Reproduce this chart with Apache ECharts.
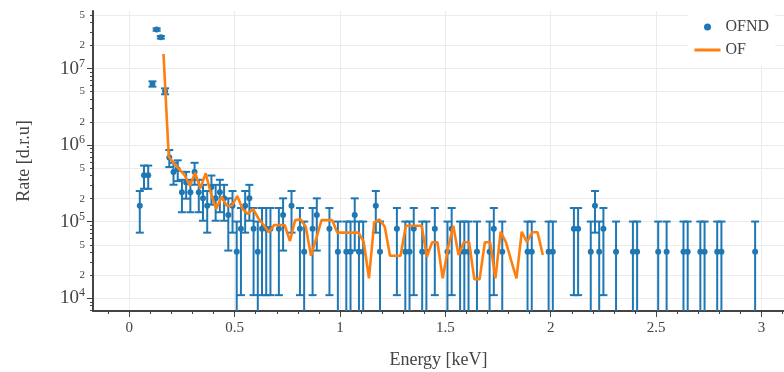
<!DOCTYPE html>
<html>
<head>
<meta charset="utf-8">
<script src="https://cdn.jsdelivr.net/npm/echarts@6/dist/echarts.min.js"></script>
<style>
  html, body { margin: 0; padding: 0; background: #ffffff; }
  #chart { width: 784px; height: 372px; }
</style>
</head>
<body>
<div id="chart"></div>
<script>
// OFND: measured rate per 0.02 keV bin, with its symmetric uncertainty
const ofndEnergy = [
  0.05, 0.07, 0.09, 0.11, 0.13, 0.15, 0.17, 0.19, 0.21, 0.23,
  0.25, 0.27, 0.29, 0.31, 0.33, 0.35, 0.37, 0.39, 0.41, 0.43,
  0.45, 0.47, 0.49, 0.51, 0.53, 0.55, 0.57, 0.59, 0.61, 0.63,
  0.65, 0.67, 0.71, 0.73, 0.77, 0.81, 0.83, 0.87, 0.89, 0.95,
  0.99, 1.03, 1.05, 1.07, 1.09, 1.11, 1.17, 1.19, 1.27, 1.31,
  1.33, 1.35, 1.39, 1.41, 1.45, 1.51, 1.53, 1.57, 1.59, 1.61,
  1.65, 1.71, 1.73, 1.77, 1.89, 1.91, 1.99, 2.01, 2.11, 2.13,
  2.19, 2.21, 2.23, 2.25, 2.31, 2.39, 2.41, 2.51, 2.55, 2.63,
  2.65, 2.71, 2.73, 2.79, 2.81, 2.97
];
const ofndRate = [
  1.62e5, 4.05e5, 4.05e5, 6.3e6, 3.23e7, 2.56e7, 5.06e6, 6.9e5, 4.46e5, 4.86e5,
  2.43e5, 3.24e5, 2.43e5, 4.46e5, 2.43e5, 2.03e5, 1.62e5, 2.84e5, 2.03e5, 2.43e5,
  2.03e5, 1.22e5, 1.62e5, 4.05e4, 8.1e4, 1.62e5, 2.03e5, 8.1e4, 4.05e4, 8.1e4,
  8.1e4, 8.1e4, 8.1e4, 1.22e5, 1.62e5, 8.1e4, 4.05e4, 8.1e4, 1.22e5, 8.1e4,
  4.05e4, 4.05e4, 4.05e4, 1.22e5, 4.05e4, 4.05e4, 1.62e5, 4.05e4, 8.1e4, 4.05e4,
  4.05e4, 8.1e4, 4.05e4, 4.05e4, 8.1e4, 4.05e4, 8.1e4, 4.05e4, 4.05e4, 4.05e4,
  4.05e4, 4.05e4, 8.1e4, 4.05e4, 4.05e4, 4.05e4, 4.05e4, 4.05e4, 8.1e4, 8.1e4,
  4.05e4, 1.62e5, 4.05e4, 8.1e4, 4.05e4, 4.05e4, 4.05e4, 4.05e4, 4.05e4, 4.05e4,
  4.05e4, 4.05e4, 4.05e4, 4.05e4, 4.05e4, 4.05e4
];
const ofndError = [
  9e4, 1.36e5, 1.36e5, 5e5, 1.15e6, 1.0e6, 4.5e5, 1.73e5, 1.42e5, 1.47e5,
  1.1e5, 1.24e5, 1.1e5, 1.42e5, 1.1e5, 1e5, 9e4, 1.17e5, 1e5, 1.1e5,
  1e5, 8e4, 9e4, 6e4, 7e4, 9e4, 1e5, 7e4, 6e4, 7e4,
  7e4, 7e4, 7e4, 8e4, 9e4, 7e4, 6e4, 7e4, 8e4, 7e4,
  6e4, 6e4, 6e4, 8e4, 6e4, 6e4, 9e4, 6e4, 7e4, 6e4,
  6e4, 7e4, 6e4, 6e4, 7e4, 6e4, 7e4, 6e4, 6e4, 6e4,
  6e4, 6e4, 7e4, 6e4, 6e4, 6e4, 6e4, 6e4, 7e4, 7e4,
  6e4, 9e4, 6e4, 7e4, 6e4, 6e4, 6e4, 6e4, 6e4, 6e4,
  6e4, 6e4, 6e4, 6e4, 6e4, 6e4
];

// OF: model curve on a 0.025 keV grid
const ofEnergy = [
  0.1625, 0.1875, 0.2125, 0.2375, 0.2625, 0.2875, 0.3125, 0.3375, 0.3625, 0.3875,
  0.4125, 0.4375, 0.4625, 0.4875, 0.5125, 0.5375, 0.5625, 0.5875, 0.6125, 0.6375,
  0.6625, 0.6875, 0.7125, 0.7375, 0.7625, 0.7875, 0.8125, 0.8375, 0.8625, 0.8875,
  0.9125, 0.9375, 0.9625, 0.9875, 1.0125, 1.0375, 1.0625, 1.0875, 1.1125, 1.1375,
  1.1625, 1.1875, 1.2125, 1.2375, 1.2625, 1.2875, 1.3125, 1.3375, 1.3625, 1.3875,
  1.4125, 1.4375, 1.4625, 1.4875, 1.5125, 1.5375, 1.5625, 1.5875, 1.6125, 1.6375,
  1.6625, 1.6875, 1.7125, 1.7375, 1.7625, 1.7875, 1.8125, 1.8375, 1.8625, 1.8875,
  1.9125, 1.9375, 1.9625
];
const ofRate = [
  1.55e7, 7.06e5, 5.78e5, 4.83e5, 4.07e5, 2.95e5, 4.36e5, 2.73e5, 4.28e5, 2.35e5,
  1.47e5, 2.12e5, 1.62e5, 1.62e5, 2.16e5, 1.47e5, 1.26e5, 1.47e5, 1.11e5, 9.06e4,
  7.28e4, 9.06e4, 9.06e4, 9.06e4, 5.6e4, 1.05e5, 1.08e5, 8.6e4, 3.6e4, 6.07e4,
  1.05e5, 1.05e5, 1.05e5, 7.2e4, 7.2e4, 7.2e4, 7.2e4, 7.2e4, 5.48e4, 1.82e4,
  9.8e4, 1.07e5, 8.6e4, 3.6e4, 3.6e4, 3.6e4, 8.87e4, 8.87e4, 8.87e4, 8.87e4,
  3.49e4, 5.4e4, 5.4e4, 1.82e4, 4.5e4, 8.87e4, 3.67e4, 5.4e4, 5.4e4, 1.78e4,
  1.78e4, 5.4e4, 5.4e4, 1.82e4, 7.4e4, 5.4e4, 3.1e4, 1.82e4, 7.4e4, 5.4e4,
  7.3e4, 7.3e4, 3.67e4
];

// Axis ranges and tick values
const X_MIN = -0.172, X_MAX = 3.107;
const Y_MIN = 6.83e3, Y_MAX = 5.64e7;
const xMajorTicks = [0, 0.5, 1, 1.5, 2, 2.5, 3];
const yLabelTicks = [1e4, 2e4, 5e4, 1e5, 2e5, 5e5, 1e6, 2e6, 5e6, 1e7, 2e7, 5e7];
const yDecadeTicks = [1e4, 1e5, 1e6, 1e7];

const xMinorTicks = [];
for (let i = -1; i <= 31; i++) xMinorTicks.push(i / 10);
const yMinorTicks = [];
for (let p = 3; p <= 7; p++) {
  for (let m = 1; m <= 9; m++) {
    const v = m * Math.pow(10, p);
    if (v >= Y_MIN && v <= Y_MAX) yMinorTicks.push(v);
  }
}

const BLUE = '#1f77b4';
const ORANGE = '#ff7f0e';
const TEXT = '#444444';
const GRID = '#ebebeb';
const FONT = '"Liberation Serif", "Times New Roman", serif';

function yLabel(v) {
  const exp = Math.floor(Math.log10(v) + 1e-9);
  const mant = Math.round(v / Math.pow(10, exp));
  if (mant === 1) return '{base|10}{sup|' + exp + '}';
  return '{minor|' + mant + '}';
}

// Vertical error bar with caps; the lower end stops at the bottom of the plot
function renderErrorBar(params, api) {
  const e = api.value(0);
  const v = api.value(1);
  const err = api.value(2);
  const lowRaw = v - err;
  const low = Math.max(lowRaw, Y_MIN);
  const high = Math.min(v + err, Y_MAX);
  const top = api.coord([e, high]);
  const bot = api.coord([e, low]);
  const cap = 4;
  const style = { stroke: BLUE, lineWidth: 2, fill: null };
  const children = [
    { type: 'line', shape: { x1: top[0], y1: top[1], x2: bot[0], y2: bot[1] }, style: style },
    { type: 'line', shape: { x1: top[0] - cap, y1: top[1], x2: top[0] + cap, y2: top[1] }, style: style }
  ];
  if (lowRaw > Y_MIN) {
    children.push({ type: 'line', shape: { x1: bot[0] - cap, y1: bot[1], x2: bot[0] + cap, y2: bot[1] }, style: style });
  }
  return { type: 'group', children: children };
}

const chart = echarts.init(document.getElementById('chart'), null, { renderer: 'canvas' });

const option = {
  animation: false,
  backgroundColor: '#ffffff',
  textStyle: { fontFamily: FONT },
  grid: { left: 93, right: 0, top: 11, bottom: 61, containLabel: false, outerBoundsMode: 'none' },
  legend: {
    left: 688, top: 11, orient: 'vertical',
    itemWidth: 26, itemHeight: 7, itemGap: 7,
    padding: [8, 6, 8, 5],
    backgroundColor: '#ffffff',
    textStyle: { fontFamily: FONT, fontSize: 16, color: TEXT },
    data: [
      { name: 'OFND', icon: 'circle' },
      { name: 'OF', icon: 'line', itemStyle: { color: ORANGE, borderColor: ORANGE, borderWidth: 3 } }
    ]
  },
  xAxis: [
    {
      type: 'value', min: X_MIN, max: X_MAX, position: 'bottom',
      axisLine: { show: true, onZero: false, lineStyle: { color: TEXT, width: 2 } },
      axisTick: { show: true, length: 3, customValues: xMinorTicks, lineStyle: { color: TEXT, width: 1 } },
      axisLabel: { show: false },
      splitLine: { show: false }
    },
    {
      type: 'value', min: X_MIN, max: X_MAX, position: 'bottom',
      axisLine: { show: false, onZero: false },
      axisTick: { show: true, length: 6, customValues: xMajorTicks, lineStyle: { color: TEXT, width: 1 } },
      axisLabel: {
        show: true, customValues: xMajorTicks, margin: 10,
        fontFamily: FONT, fontSize: 15, color: TEXT
      },
      splitLine: { show: true, lineStyle: { color: GRID, width: 1 } },
      name: 'Energy [keV]', nameLocation: 'middle', nameGap: 40,
      nameTextStyle: { fontFamily: FONT, fontSize: 18, color: TEXT }
    }
  ],
  yAxis: [
    {
      type: 'log', logBase: 10, min: Y_MIN, max: Y_MAX, position: 'left',
      axisLine: { show: true, onZero: false, lineStyle: { color: TEXT, width: 2 } },
      axisTick: { show: true, length: 3, customValues: yMinorTicks, lineStyle: { color: TEXT, width: 1 } },
      axisLabel: {
        show: true, customValues: yLabelTicks, margin: 8, formatter: yLabel,
        rich: {
          base: { fontFamily: FONT, fontSize: 19, color: TEXT, lineHeight: 22 },
          sup: { fontFamily: FONT, fontSize: 12, color: TEXT, lineHeight: 12, verticalAlign: 'top' },
          minor: { fontFamily: FONT, fontSize: 11, color: TEXT }
        }
      },
      splitLine: { show: false },
      name: 'Rate [d.r.u]', nameLocation: 'middle', nameGap: 60,
      nameTextStyle: { fontFamily: FONT, fontSize: 18, color: TEXT }
    },
    {
      type: 'log', logBase: 10, min: Y_MIN, max: Y_MAX, position: 'left',
      axisLine: { show: false, onZero: false },
      axisTick: { show: true, length: 6, customValues: yDecadeTicks, lineStyle: { color: TEXT, width: 1 } },
      axisLabel: { show: false },
      splitLine: { show: false }
    },
    {
      type: 'log', logBase: 10, min: Y_MIN, max: Y_MAX, position: 'left',
      axisLine: { show: false, onZero: false },
      axisTick: { show: false, customValues: yLabelTicks },
      axisLabel: { show: false },
      splitLine: { show: true, lineStyle: { color: GRID, width: 1 } }
    }
  ],
  series: [
    {
      name: 'OFND', type: 'scatter', xAxisIndex: 0, yAxisIndex: 0,
      symbol: 'circle', symbolSize: 6, z: 3,
      itemStyle: { color: BLUE, opacity: 1 },
      data: ofndEnergy.map((e, i) => [e, ofndRate[i]])
    },
    {
      name: 'OFND', type: 'custom', xAxisIndex: 0, yAxisIndex: 0, z: 2,
      renderItem: renderErrorBar,
      itemStyle: { color: BLUE },
      encode: { x: 0, y: 1 },
      data: ofndEnergy.map((e, i) => [e, ofndRate[i], ofndError[i]])
    },
    {
      name: 'OF', type: 'line', xAxisIndex: 0, yAxisIndex: 0, z: 4,
      symbol: 'none', showSymbol: false,
      lineStyle: { color: ORANGE, width: 2.6 },
      itemStyle: { color: ORANGE },
      data: ofEnergy.map((e, i) => [e, ofRate[i]])
    }
  ]
};

chart.setOption(option);
</script>
</body>
</html>
